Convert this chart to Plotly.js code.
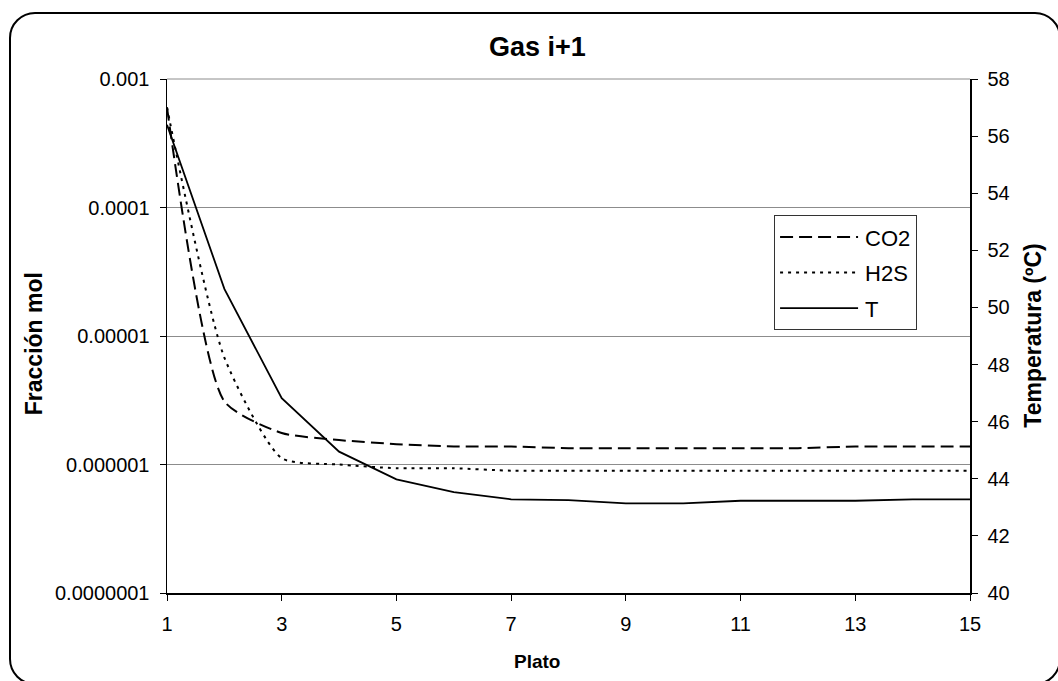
<!DOCTYPE html>
<html><head><meta charset="utf-8">
<script src="https://cdn.plot.ly/plotly-3.0.1.min.js"></script>
<style>
html,body{margin:0;padding:0;background:#fff;overflow:hidden;width:1058px;height:681px;}
#frame{position:absolute;left:9px;top:12px;width:1052px;height:673px;border:2px solid #000;border-radius:26px;box-sizing:border-box;}
#chart{position:absolute;left:0;top:0;width:1058px;height:681px;}
</style></head><body>
<div id="frame"></div><div id="chart"></div>
<script>
const plato = [1,2,3,4,5,6,7,8,9,10,11,12,13,14,15];
const co2 = [6.0e-4,3.1e-6,1.76e-6,1.55e-6,1.44e-6,1.38e-6,1.38e-6,1.34e-6,1.34e-6,1.34e-6,1.34e-6,1.34e-6,1.38e-6,1.38e-6,1.38e-6];
const h2s = [6.0e-4,6.8e-6,1.12e-6,1.0e-6,9.35e-7,9.35e-7,8.95e-7,8.95e-7,8.95e-7,8.95e-7,8.95e-7,8.95e-7,8.95e-7,8.95e-7,8.95e-7];
const temp = [56.4,50.65,46.82,44.95,43.98,43.53,43.28,43.25,43.14,43.14,43.23,43.23,43.23,43.28,43.28];
const xTicks = [1,3,5,7,9,11,13,15];
const logTickVals = [1e-7,1e-6,1e-5,1e-4,1e-3];
const logTickText = ["0.0000001","0.000001","0.00001","0.0001","0.001"];
const tTicks = [40,42,44,46,48,50,52,54,56,58];

const FONT = "Liberation Sans, Arial, sans-serif";
const traces = [
  {x: plato, y: co2, name: "CO2", type: "scatter", mode: "lines", yaxis: "y", legendgroup: "a",
   line: {color: "#000", width: 2, dash: "13px,6px", shape: "spline", smoothing: 0.6}},
  {x: plato, y: h2s, name: "H2S", type: "scatter", mode: "lines", yaxis: "y", legendgroup: "b",
   line: {color: "#000", width: 2, dash: "3px,5px", shape: "spline", smoothing: 0.6}},
  {x: plato, y: temp, name: "T", type: "scatter", mode: "lines", yaxis: "y2", legendgroup: "c",
   line: {color: "#000", width: 1.8}}
];
const layout = {
  width: 1058, height: 681,
  margin: {l: 167, r: 88, t: 79, b: 88},
  paper_bgcolor: "rgba(0,0,0,0)", plot_bgcolor: "rgba(0,0,0,0)",
  font: {family: FONT, color: "#000", size: 20},
  showlegend: true,
  title: {text: "Gas i+1", font: {family: FONT, size: 27, weight: "bold", color: "#000"},
          xref: "container", x: 0.508, xanchor: "center", yref: "container", y: 0.932, yanchor: "middle"},
  xaxis: {range: [1, 15], tickvals: xTicks, ticks: "outside", ticklen: 6, tickcolor: "#000",
          showline: true, linecolor: "#000", linewidth: 1.5, showgrid: false, zeroline: false,
          tickfont: {size: 20}, ticklabelstandoff: 6},
  yaxis: {type: "log", range: [-7, -3], tickvals: logTickVals, ticktext: logTickText,
          ticks: "outside", ticklen: 6, tickcolor: "#000", showline: true, linecolor: "#000", linewidth: 1.5,
          showgrid: true, gridcolor: "#8c8c8c", gridwidth: 1, zeroline: false, tickfont: {size: 20},
          ticklabelstandoff: 6},
  yaxis2: {overlaying: "y", side: "right", range: [40, 58], tickvals: tTicks, ticks: "outside", ticklen: 6,
           tickcolor: "#000", showline: true, linecolor: "#000", linewidth: 1.5, showgrid: false,
           zeroline: false, tickfont: {size: 20}, ticklabelstandoff: 6},
  yaxis3: {overlaying: "y", side: "right", range: [40, 58], tickvals: tTicks, ticks: "inside", ticklen: 6,
           tickcolor: "#000", showline: false, showgrid: false, zeroline: false, showticklabels: false},
  legend: {x: 0.756, y: 0.735, xanchor: "left", yanchor: "top", bordercolor: "#333", borderwidth: 1,
           bgcolor: "#fff", font: {size: 22, family: FONT}, traceorder: "grouped", tracegroupgap: 4,
           itemwidth: 80},
  shapes: [
    {type: "line", xref: "paper", yref: "paper", x0: 0, x1: 1, y0: 1, y1: 1, line: {color: "#8c8c8c", width: 1}}
  ],
  annotations: [
    {text: "Plato", xref: "paper", yref: "paper", x: 0.461, y: -0.134, showarrow: false,
     font: {size: 19, weight: "bold"}, xanchor: "center", yanchor: "middle"},
    {text: "Fracción mol", xref: "paper", yref: "paper", x: -0.1656, y: 0.484, showarrow: false, textangle: -90,
     font: {size: 23, weight: "bold"}, xanchor: "center", yanchor: "middle"},
    {text: "Temperatura (ºC)", xref: "paper", yref: "paper", x: 1.078, y: 0.5, showarrow: false, textangle: -90,
     font: {size: 23, weight: "bold"}, xanchor: "center", yanchor: "middle"}
  ]
};
Plotly.newPlot("chart", traces, layout, {displayModeBar: false, staticPlot: true}).then(function () {
  document.querySelectorAll(".legend .legendlines path").forEach(function (p) {
    p.setAttribute("d", "M5,0h78");
  });
});
</script>
</body></html>
